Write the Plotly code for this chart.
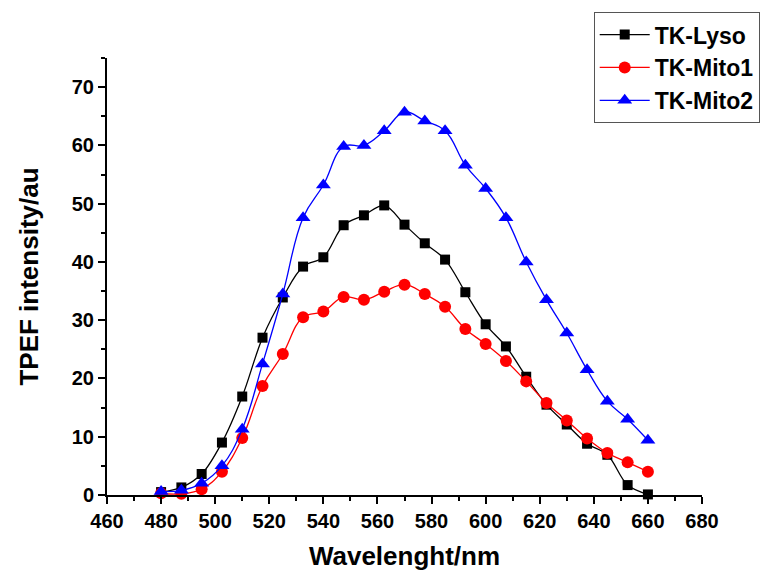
import plotly.graph_objects as go

wavelength = [480, 487.5, 495, 502.5, 510, 517.5, 525, 532.5, 540, 547.5, 555, 562.5,
              570, 577.5, 585, 592.5, 600, 607.5, 615, 622.5, 630, 637.5, 645, 652.5, 660]
tk_lyso = [0.5, 1.3, 3.6, 9.0, 16.9, 27.0, 33.9, 39.2, 40.8, 46.3, 48.0, 49.7,
           46.4, 43.2, 40.4, 34.8, 29.3, 25.5, 20.3, 15.5, 12.1, 8.8, 6.9, 1.7, 0.1]
tk_mito1 = [0.3, 0.2, 1.0, 4.0, 9.8, 18.7, 24.2, 30.5, 31.5, 34.0, 33.5, 34.9,
            36.1, 34.5, 32.3, 28.5, 25.9, 23.0, 19.5, 15.8, 12.8, 9.7, 7.2, 5.6, 4.0]
tk_mito2 = [0.6, 0.8, 2.0, 5.0, 11.3, 22.5, 34.5, 47.6, 53.2, 59.8, 60.0, 62.5,
            65.7, 64.2, 62.5, 56.6, 52.6, 47.6, 40.0, 33.5, 27.8, 21.5, 16.1, 13.0, 9.4]

FONT = "Liberation Sans, Arial, sans-serif"

fig = go.Figure()
fig.add_trace(go.Scatter(x=wavelength, y=tk_lyso, name="TK-Lyso", mode="lines+markers",
                         line=dict(color="black", width=1.3, shape="spline", smoothing=1.0),
                         marker=dict(symbol="square", size=10, color="black"),
                         cliponaxis=False))
fig.add_trace(go.Scatter(x=wavelength, y=tk_mito1, name="TK-Mito1", mode="lines+markers",
                         line=dict(color="red", width=1.3, shape="spline", smoothing=1.2),
                         marker=dict(symbol="circle", size=12, color="red"),
                         cliponaxis=False))
fig.add_trace(go.Scatter(x=wavelength, y=tk_mito2, name="TK-Mito2", mode="lines+markers",
                         line=dict(color="blue", width=1.3, shape="spline", smoothing=1.2),
                         marker=dict(symbol="triangle-up", size=13, color="blue"),
                         cliponaxis=False))

axis_common = dict(showline=True, linecolor="black", linewidth=2, ticks="outside",
                   ticklen=7, tickwidth=2, tickcolor="black", showgrid=False, zeroline=False,
                   tickfont=dict(family=FONT, size=20, color="black", weight="bold"))

fig.update_xaxes(range=[460, 680], dtick=20, tick0=460,
                 minor=dict(dtick=10, ticklen=4, tickwidth=2, tickcolor="black", ticks="outside"),
                 title=dict(text="Wavelenght/nm", standoff=16,
                            font=dict(family=FONT, size=26, color="black", weight="bold")),
                 **axis_common)
fig.update_yaxes(range=[0, 75], dtick=10, tick0=0,
                 minor=dict(dtick=5, ticklen=4, tickwidth=2, tickcolor="black", ticks="outside"),
                 title=dict(text="TPEF intensity/au", standoff=26,
                            font=dict(family=FONT, size=26, color="black", weight="bold")),
                 **axis_common)

fig.update_layout(
    width=775, height=579,
    margin=dict(l=107, r=73, t=58, b=84),
    plot_bgcolor="white", paper_bgcolor="white",
    legend=dict(x=0.818, y=1.105, xanchor="left", yanchor="top",
                bordercolor="#555555", borderwidth=1, bgcolor="white",
                font=dict(family=FONT, size=23, color="black", weight="bold"),
                itemwidth=50, tracegroupgap=0),
)

fig.write_html("out.html")
